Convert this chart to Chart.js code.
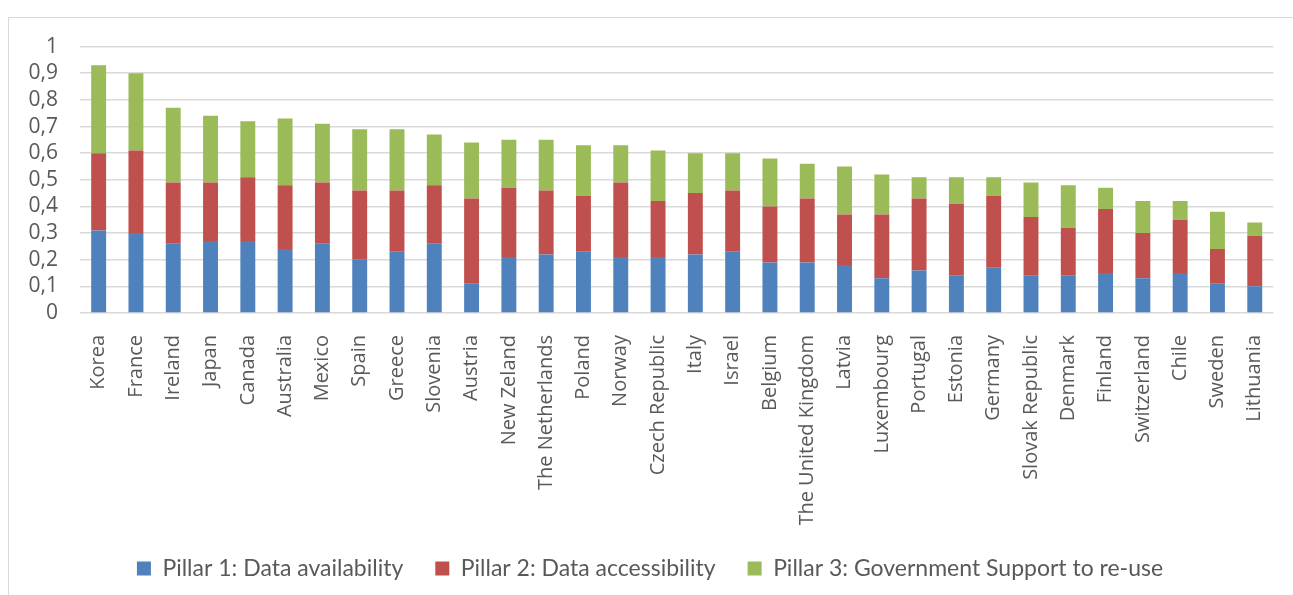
<!DOCTYPE html>
<html>
<head>
<meta charset="utf-8">
<script src="https://cdn.jsdelivr.net/npm/chart.js@4"></script>
<style>
  html, body { margin: 0; padding: 0; background: #fff; overflow: hidden; }
  #frame {
    position: absolute; left: 8px; top: 17px; width: 1290px; height: 590px;
    border-left: 1px solid #d9d9d9; border-top: 1px solid #d9d9d9;
  }
  #wrap { position: absolute; left: 9px; top: 12px; width: 1284px; height: 583px; }
</style>
</head>
<body>
<div id="frame"></div>
<div id="wrap"><canvas id="chart"></canvas></div>
<script>
const COUNTRIES = ['Korea', 'France', 'Ireland', 'Japan', 'Canada', 'Australia', 'Mexico', 'Spain', 'Greece',
  'Slovenia', 'Austria', 'New Zeland', 'The Netherlands', 'Poland', 'Norway', 'Czech Republic', 'Italy', 'Israel',
  'Belgium', 'The United Kingdom', 'Latvia', 'Luxembourg', 'Portugal', 'Estonia', 'Germany', 'Slovak Republic',
  'Denmark', 'Finland', 'Switzerland', 'Chile', 'Sweden', 'Lithuania'];

const PILLAR1 = [0.31, 0.30, 0.26, 0.27, 0.27, 0.24, 0.26, 0.20, 0.23, 0.26, 0.11, 0.21, 0.22, 0.23, 0.21, 0.21,
  0.22, 0.23, 0.19, 0.19, 0.18, 0.13, 0.16, 0.14, 0.17, 0.14, 0.14, 0.15, 0.13, 0.15, 0.11, 0.10];
const PILLAR2 = [0.29, 0.31, 0.23, 0.22, 0.24, 0.24, 0.23, 0.26, 0.23, 0.22, 0.32, 0.26, 0.24, 0.21, 0.28, 0.21,
  0.23, 0.23, 0.21, 0.24, 0.19, 0.24, 0.27, 0.27, 0.27, 0.22, 0.18, 0.24, 0.17, 0.20, 0.13, 0.19];
const PILLAR3 = [0.33, 0.29, 0.28, 0.25, 0.21, 0.25, 0.22, 0.23, 0.23, 0.19, 0.21, 0.18, 0.19, 0.19, 0.14, 0.19,
  0.15, 0.14, 0.18, 0.13, 0.18, 0.15, 0.08, 0.10, 0.07, 0.13, 0.16, 0.08, 0.12, 0.07, 0.14, 0.05];

const SERIES_NAMES = ['Pillar 1: Data availability', 'Pillar 2: Data accessibility', 'Pillar 3: Government Support to re-use'];
const Y_TICK_LABELS = ['0', '0,1', '0,2', '0,3', '0,4', '0,5', '0,6', '0,7', '0,8', '0,9', '1'];

const COLORS = ['#4f81bd', '#c0504d', '#9bbb59'];
const TEXT = '#595959';
const GRID = '#d9d9d9';

function dataset(label, data, color) {
  return {
    label,
    data,
    backgroundColor: color,
    borderWidth: 0,
    categoryPercentage: 1,
    barPercentage: 0.4,
  };
}

const ctx = document.getElementById('chart').getContext('2d');
new Chart(ctx, {
  type: 'bar',
  data: {
    labels: COUNTRIES,
    datasets: [
      dataset(SERIES_NAMES[0], PILLAR1, COLORS[0]),
      dataset(SERIES_NAMES[1], PILLAR2, COLORS[1]),
      dataset(SERIES_NAMES[2], PILLAR3, COLORS[2]),
    ],
  },
  options: {
    responsive: true,
    maintainAspectRatio: false,
    animation: false,
    // a little left padding nudges the legend centre right; y scale width shrinks to match
    layout: { padding: { top: 8, right: 16, left: 14, bottom: 5 } },
    plugins: {
      tooltip: { enabled: false },
      legend: {
        position: 'bottom',
        labels: {
          color: TEXT,
          font: { family: '"Lato", sans-serif', size: 23 },
          boxWidth: 14,
          boxHeight: 14,
          padding: 32,
        },
      },
    },
    scales: {
      x: {
        stacked: true,
        grid: { display: false },
        border: { display: false },
        ticks: {
          color: TEXT,
          font: { family: '"Open Sans", sans-serif', size: 20 },
          minRotation: 90,
          maxRotation: 90,
          autoSkip: false,
          padding: 14,
        },
        afterFit: (scale) => { scale.height = 212; },
      },
      y: {
        stacked: true,
        min: 0,
        max: 1,
        grid: { color: GRID, lineWidth: 1.5, drawTicks: false },
        border: { display: false },
        ticks: {
          stepSize: 0.1,
          autoSkip: false,
          color: TEXT,
          font: { family: '"Open Sans", sans-serif', size: 21 },
          padding: 22,
          callback: (v, i) => Y_TICK_LABELS[i],
        },
        afterFit: (scale) => { scale.width = 57; },
      },
    },
  },
});
</script>
</body>
</html>
